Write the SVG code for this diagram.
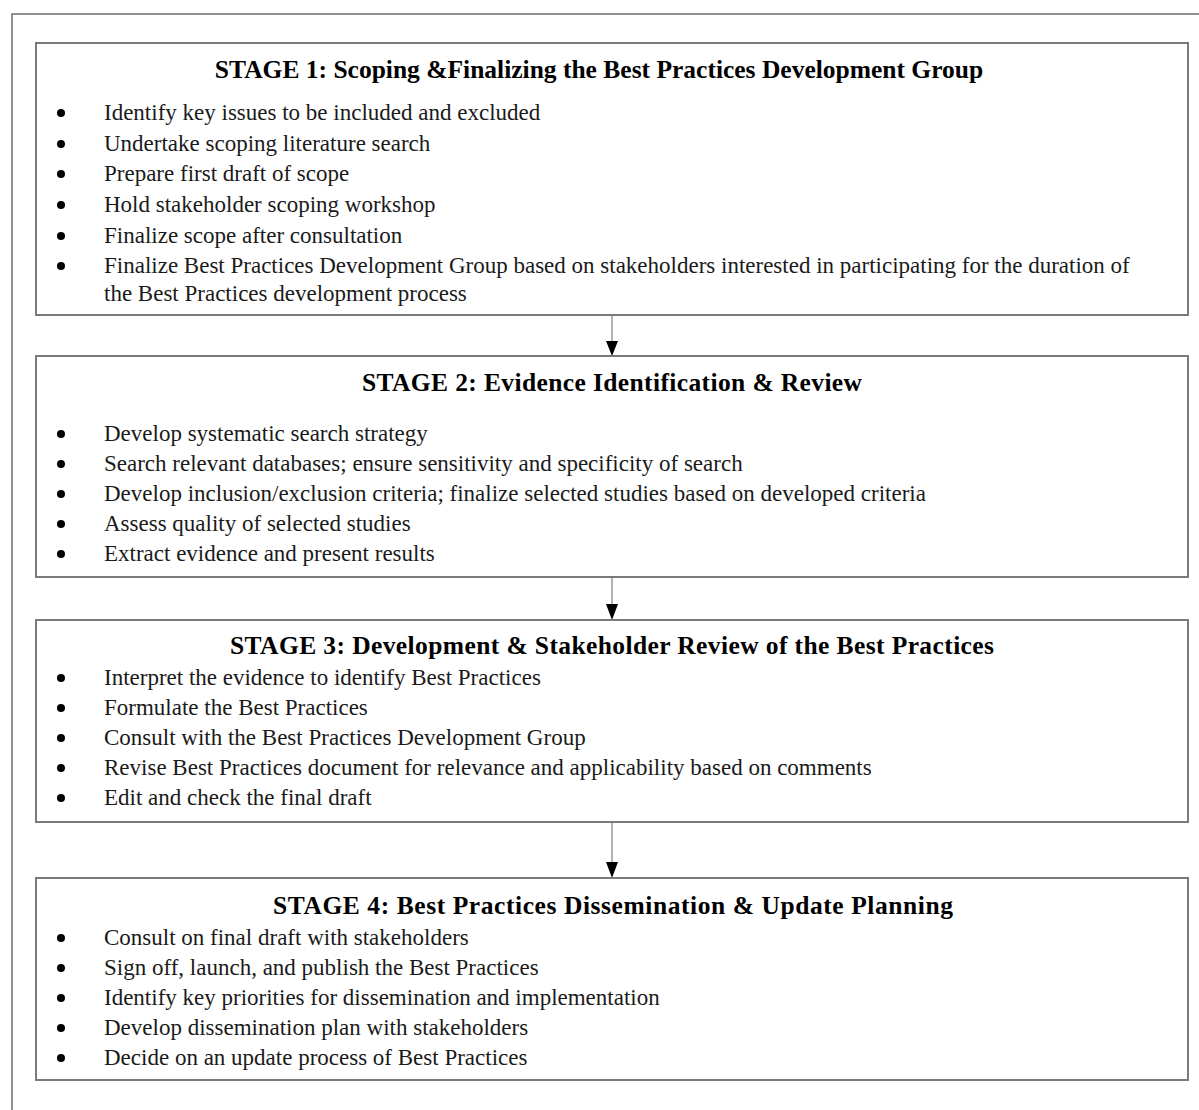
<svg xmlns="http://www.w3.org/2000/svg" width="1199" height="1110" viewBox="0 0 1199 1110">
<defs>
<style>
.frame{fill:none;stroke:#6e6e6e;stroke-width:1.5}
.box{fill:#fff;stroke:#7a7a7a;stroke-width:2}
.title{font-family:"Liberation Serif",serif;font-weight:bold;font-size:25.5px;fill:#000;text-anchor:middle}
.item{font-family:"Liberation Serif",serif;font-size:23px;fill:#1a1a1a}
.dot{fill:#000}
.cline{stroke:#9a9a9a;stroke-width:1.5}
.head{fill:#000}
</style>
</defs>
<rect width="1199" height="1110" fill="#fff"/>
<path class="frame" d="M12,1110 V14 H1199"/>

<g id="connectors">
<line class="cline" x1="612" y1="316" x2="612" y2="342"/>
<polygon class="head" points="606,341 618,341 612,356"/>
<line class="cline" x1="612" y1="578" x2="612" y2="605"/>
<polygon class="head" points="606,604 618,604 612,620"/>
<line class="cline" x1="612" y1="823" x2="612" y2="863"/>
<polygon class="head" points="606,862 618,862 612,878"/>
</g>

<g id="stage1">
<rect class="box" x="36" y="43" width="1152" height="272"/>
<text class="title" x="599" y="78">STAGE 1: Scoping &amp;Finalizing the Best Practices Development Group</text>
<circle class="dot" cx="61" cy="113" r="4"/><text class="item" x="104" y="120">Identify key issues to be included and excluded</text>
<circle class="dot" cx="61" cy="144" r="4"/><text class="item" x="104" y="151">Undertake scoping literature search</text>
<circle class="dot" cx="61" cy="174" r="4"/><text class="item" x="104" y="181">Prepare first draft of scope</text>
<circle class="dot" cx="61" cy="205" r="4"/><text class="item" x="104" y="212">Hold stakeholder scoping workshop</text>
<circle class="dot" cx="61" cy="236" r="4"/><text class="item" x="104" y="243">Finalize scope after consultation</text>
<circle class="dot" cx="61" cy="266" r="4"/><text class="item" x="104" y="273">Finalize Best Practices Development Group based on stakeholders interested in participating for the duration of</text>
<text class="item" x="104" y="301">the Best Practices development process</text>
</g>

<g id="stage2">
<rect class="box" x="36" y="356" width="1152" height="221"/>
<text class="title" x="612" y="391" textLength="500" lengthAdjust="spacing">STAGE 2: Evidence Identification &amp; Review</text>
<circle class="dot" cx="61" cy="434" r="4"/><text class="item" x="104" y="441">Develop systematic search strategy</text>
<circle class="dot" cx="61" cy="464" r="4"/><text class="item" x="104" y="471">Search relevant databases; ensure sensitivity and specificity of search</text>
<circle class="dot" cx="61" cy="494" r="4"/><text class="item" x="104" y="501">Develop inclusion/exclusion criteria; finalize selected studies based on developed criteria</text>
<circle class="dot" cx="61" cy="524" r="4"/><text class="item" x="104" y="531">Assess quality of selected studies</text>
<circle class="dot" cx="61" cy="554" r="4"/><text class="item" x="104" y="561">Extract evidence and present results</text>
</g>

<g id="stage3">
<rect class="box" x="36" y="620" width="1152" height="202"/>
<text class="title" x="612" y="654" textLength="764" lengthAdjust="spacing">STAGE 3: Development &amp; Stakeholder Review of the Best Practices</text>
<circle class="dot" cx="61" cy="678" r="4"/><text class="item" x="104" y="685">Interpret the evidence to identify Best Practices</text>
<circle class="dot" cx="61" cy="708" r="4"/><text class="item" x="104" y="715">Formulate the Best Practices</text>
<circle class="dot" cx="61" cy="738" r="4"/><text class="item" x="104" y="745">Consult with the Best Practices Development Group</text>
<circle class="dot" cx="61" cy="768" r="4"/><text class="item" x="104" y="775">Revise Best Practices document for relevance and applicability based on comments</text>
<circle class="dot" cx="61" cy="798" r="4"/><text class="item" x="104" y="805">Edit and check the final draft</text>
</g>

<g id="stage4">
<rect class="box" x="36" y="878" width="1152" height="202"/>
<text class="title" x="613" y="914" textLength="680" lengthAdjust="spacing">STAGE 4: Best Practices Dissemination &amp; Update Planning</text>
<circle class="dot" cx="61" cy="938" r="4"/><text class="item" x="104" y="945">Consult on final draft with stakeholders</text>
<circle class="dot" cx="61" cy="968" r="4"/><text class="item" x="104" y="975">Sign off, launch, and publish the Best Practices</text>
<circle class="dot" cx="61" cy="998" r="4"/><text class="item" x="104" y="1005">Identify key priorities for dissemination and implementation</text>
<circle class="dot" cx="61" cy="1028" r="4"/><text class="item" x="104" y="1035">Develop dissemination plan with stakeholders</text>
<circle class="dot" cx="61" cy="1058" r="4"/><text class="item" x="104" y="1065">Decide on an update process of Best Practices</text>
</g>
</svg>
